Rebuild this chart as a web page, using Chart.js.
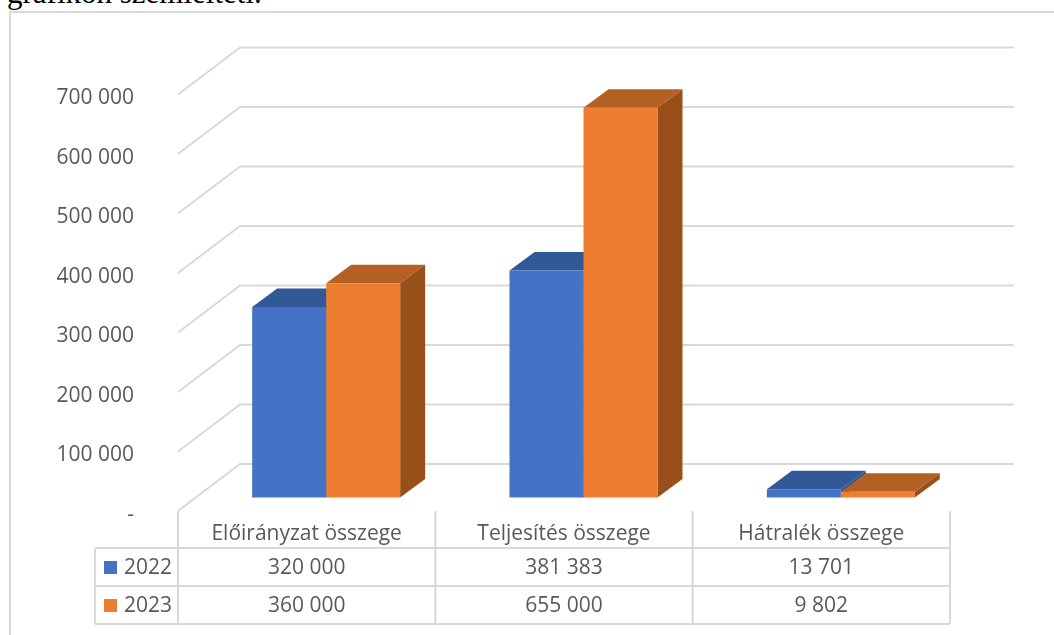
<!DOCTYPE html>
<html lang="hu">
<head>
<meta charset="utf-8">
<title>Előirányzat, teljesítés, hátralék</title>
<script src="https://cdn.jsdelivr.net/npm/chart.js@4"></script>
<style>
    html, body { margin: 0; padding: 0; background: #fff; overflow: hidden; }
    #wrap { position: relative; width: 1054px; height: 635px; overflow: hidden; }
    #szoveg {
        position: absolute; left: 7px; top: -25px; margin: 0;
        font: 31px "Liberation Serif", serif; color: #000; white-space: nowrap;
    }
    #grafikon { position: absolute; left: 0; top: 0; }
</style>
</head>
<body>
<div id="wrap">
    <p id="szoveg">grafikon szemlélteti.</p>
    <canvas id="grafikon" width="1054" height="635"></canvas>
</div>
<script>
const kategoriak = ['Előirányzat összege', 'Teljesítés összege', 'Hátralék összege'];
const evek = ['2022', '2023'];
const ertekek2022 = [320000, 381383, 13701];
const ertekek2023 = [360000, 655000, 9802];
const tengelyMax = 700000;
const tengelyLepes = 100000;

const racsSzin = '#d9d9d9';
const szovegSzin = '#595959';
const betu = '21px "Open Sans", sans-serif';
const fal = { dx: 62, dy: 47 };      // back wall offset
const oszlopMely = { dx: 25, dy: 18.5 };
const oszlopEltolas = { dx: 19.5, dy: 13.5 };

const szinek = [
    { elol: '#4472c4', teteje: '#325997', oldal: '#2f5597' },
    { elol: '#ed7d31', teteje: '#b46023', oldal: '#984f1a' }
];

function szamFormat(v) {
    if (v === 0) return '-';
    return String(v).replace(/\B(?=(\d{3})+$)/g, ' ');
}

function vonal(ctx, x1, y1, x2, y2) {
    ctx.beginPath();
    ctx.moveTo(x1, y1);
    ctx.lineTo(x2, y2);
    ctx.stroke();
}

function sokszog(ctx, pontok, szin) {
    ctx.fillStyle = szin;
    ctx.beginPath();
    pontok.forEach((p, i) => i ? ctx.lineTo(p[0], p[1]) : ctx.moveTo(p[0], p[1]));
    ctx.closePath();
    ctx.fill();
}

// 3D look: walls and bar faces go under the bars, the table over them
const terPlugin = {
    id: 'ter',
    beforeDatasetsDraw(chart) {
        const ctx = chart.ctx;
        const { left, right } = chart.chartArea;
        const y = chart.scales.y;

        ctx.save();
        // keret
        ctx.strokeStyle = racsSzin;
        ctx.lineWidth = 2;
        ctx.beginPath();
        ctx.moveTo(1054, 12);
        ctx.lineTo(10, 12);
        ctx.lineTo(10, 635);
        ctx.stroke();

        // racs
        y.ticks.forEach(t => {
            const py = y.getPixelForValue(t.value);
            ctx.beginPath();
            ctx.moveTo(left, py);
            ctx.lineTo(left + fal.dx, py - fal.dy);
            ctx.lineTo(right + fal.dx + 2, py - fal.dy);
            ctx.stroke();
        });

        // oszlopok teteje es oldala
        ctx.translate(oszlopEltolas.dx, -oszlopEltolas.dy);
        chart.data.datasets.forEach((ds, i) => {
            chart.getDatasetMeta(i).data.forEach(bar => {
                const p = bar.getProps(['x', 'y', 'base', 'width'], true);
                const x1 = p.x - p.width / 2;
                const x2 = p.x + p.width / 2;
                const d = oszlopMely;
                sokszog(ctx, [[x1, p.y], [x1 + d.dx, p.y - d.dy], [x2 + d.dx, p.y - d.dy], [x2, p.y]], szinek[i].teteje);
                sokszog(ctx, [[x2, p.y], [x2 + d.dx, p.y - d.dy], [x2 + d.dx, p.base - d.dy], [x2, p.base]], szinek[i].oldal);
            });
        });
        ctx.restore();

        // az elolap is el van tolva
        ctx.save();
        ctx.translate(oszlopEltolas.dx, -oszlopEltolas.dy);
    },
    afterDatasetsDraw(chart) {
        const ctx = chart.ctx;
        ctx.restore();

        const x = chart.scales.x;
        const y0 = chart.chartArea.bottom;
        const oszlop = x.getPixelForValue(1) - x.getPixelForValue(0);
        const left = chart.chartArea.left;
        const sorok = [y0 + 37, y0 + 75, y0 + 113];
        const balSzel = 95;

        ctx.save();
        ctx.strokeStyle = racsSzin;
        ctx.lineWidth = 2;
        kategoriak.forEach((k, i) => vonal(ctx, left + oszlop * i, y0, left + oszlop * i, sorok[2]));
        vonal(ctx, left + oszlop * 3, y0, left + oszlop * 3, sorok[2]);
        sorok.forEach(s => vonal(ctx, balSzel, s, left + oszlop * 3, s));
        vonal(ctx, balSzel, sorok[0], balSzel, sorok[2]);

        ctx.fillStyle = szovegSzin;
        ctx.font = betu;
        ctx.textAlign = 'center';
        ctx.textBaseline = 'middle';
        kategoriak.forEach((k, i) => {
            const cx = x.getPixelForValue(i);
            ctx.fillText(k, cx, y0 + 23);
            ctx.fillText(szamFormat(ertekek2022[i]), cx, y0 + 57);
            ctx.fillText(szamFormat(ertekek2023[i]), cx, y0 + 95);
        });

        ctx.textAlign = 'left';
        evek.forEach((ev, i) => {
            const sy = y0 + 56 + i * 38;
            ctx.fillStyle = szinek[i].elol;
            ctx.fillRect(104, sy - 6, 13, 13);
            ctx.fillStyle = szovegSzin;
            ctx.fillText(ev, 124, sy + 1);
        });
        ctx.restore();
    }
};

new Chart(document.getElementById('grafikon'), {
    type: 'bar',
    data: {
        labels: kategoriak,
        datasets: [
            { label: evek[0], data: ertekek2022, backgroundColor: szinek[0].elol, clip: false },
            { label: evek[1], data: ertekek2023, backgroundColor: szinek[1].elol, clip: false }
        ]
    },
    options: {
        responsive: false,
        animation: false,
        events: [],
        layout: { padding: { top: 94.5, right: 104, bottom: 124, left: 0 } },
        datasets: { bar: { categoryPercentage: 0.575, barPercentage: 1 } },
        plugins: { legend: { display: false }, tooltip: { enabled: false } },
        scales: {
            x: { display: false },
            y: {
                min: 0,
                max: tengelyMax,
                afterFit(scale) { scale.width = 178; },
                grid: { display: false },
                border: { display: false },
                ticks: {
                    stepSize: tengelyLepes,
                    padding: 36,
                    labelOffset: 4,
                    color: szovegSzin,
                    font: { family: '"Open Sans", sans-serif', size: 21 },
                    callback: v => szamFormat(v)
                }
            }
        }
    },
    plugins: [terPlugin]
});
</script>
</body>
</html>
